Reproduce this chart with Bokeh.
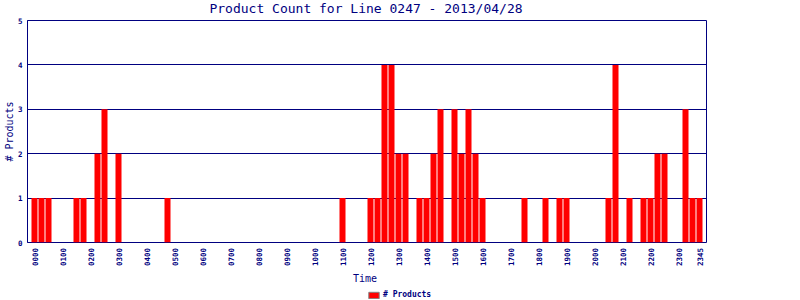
import math
from bokeh.plotting import figure
from bokeh.layouts import column
from bokeh.models import (ColumnDataSource, FixedTicker, Legend, LegendItem,
                          Range1d, Label)
from bokeh.embed import file_html
from bokeh.resources import INLINE

# 96 quarter-hour slots, 0000 .. 2345
slot_index = [0, 1, 2, 6, 7, 9, 10, 12, 19, 44, 48, 49, 50, 51, 52, 53,
              55, 56, 57, 58, 60, 61, 62, 63, 64, 70, 73, 75, 76, 82, 83,
              85, 87, 88, 89, 90, 93, 94, 95]
product_count = [1, 1, 1, 1, 1, 2, 3, 2, 1, 1, 1, 1, 4, 4, 2, 2,
                 1, 1, 2, 3, 3, 2, 3, 2, 1, 1, 1, 1, 1, 1, 4,
                 1, 1, 1, 2, 2, 3, 1, 1]
tick_index = [0, 4, 8, 12, 16, 20, 24, 28, 32, 36, 40, 44, 48, 52, 56, 60,
              64, 68, 72, 76, 80, 84, 88, 92, 95]
tick_labels = ["0000", "0100", "0200", "0300", "0400", "0500", "0600", "0700",
               "0800", "0900", "1000", "1100", "1200", "1300", "1400", "1500",
               "1600", "1700", "1800", "1900", "2000", "2100", "2200", "2300",
               "2345"]
y_ticks = [0, 1, 2, 3, 4, 5]
title_text = "Product Count for Line 0247 - 2013/04/28"

NAVY = "#000080"
FONT = "DejaVu Sans Mono"
TOP_H = 15
MAIN_H = 232
BOTTOM_H = 53


def bare(fig):
    fig.outline_line_color = None
    fig.xgrid.visible = False
    fig.ygrid.visible = False
    fig.background_fill_color = "white"
    fig.border_fill_color = "white"


# ---------- title strip (frame is aligned with the chart frame below) ----------
t = figure(width=800, height=TOP_H, output_backend="svg", toolbar_location=None,
           title=None, x_range=Range1d(0, 800), y_range=Range1d(0, TOP_H),
           x_axis_type=None, y_axis_type=None, min_border=0)
bare(t)
t.add_layout(Label(x=338.5, y=7, x_units="screen", y_units="screen",
                   text=title_text, text_align="center",
                   text_baseline="middle", text_font=FONT,
                   text_font_size="13px", text_color=NAVY))

# ---------- main chart ----------
src = ColumnDataSource(dict(x=slot_index, top=product_count))
p = figure(width=800, height=MAIN_H, output_backend="svg",
           toolbar_location=None, title=None,
           x_range=Range1d(-1, 96), y_range=Range1d(0, 5), x_axis_type=None,
           min_border_left=27, min_border_right=94, min_border_top=5,
           min_border_bottom=5)

r = p.vbar(x="x", top="top", bottom=0, width=0.86, source=src,
           fill_color="#ff0000", line_color=None)

p.outline_line_color = NAVY
p.outline_line_width = 1
p.background_fill_color = "white"
p.border_fill_color = "white"

p.xgrid.visible = False
p.ygrid.grid_line_color = NAVY
p.ygrid.grid_line_width = 1
p.ygrid.ticker = FixedTicker(ticks=y_ticks)

ya = p.yaxis[0]
ya.ticker = FixedTicker(ticks=y_ticks)
ya.axis_line_color = NAVY
ya.major_tick_line_color = None
ya.minor_tick_line_color = None
ya.major_tick_out = 0
ya.major_tick_in = 0
ya.minor_tick_out = 0
ya.minor_tick_in = 0
ya.major_label_text_font = FONT
ya.major_label_text_font_size = "7.5px"
ya.major_label_text_font_style = "bold"
ya.major_label_text_color = NAVY
ya.major_label_standoff = 5
ya.axis_label = "# Products"
ya.axis_label_text_font = FONT
ya.axis_label_text_font_size = "10px"
ya.axis_label_text_font_style = "normal"
ya.axis_label_text_color = NAVY
ya.axis_label_standoff = 0

# ---------- bottom strip: rotated time labels, axis title, legend ----------
q = figure(width=800, height=BOTTOM_H, output_backend="svg",
           toolbar_location=None, title=None, x_range=p.x_range,
           y_range=Range1d(0, BOTTOM_H), x_axis_type=None, y_axis_type=None,
           min_border_left=27, min_border_right=94, min_border_top=0,
           min_border_bottom=0)
bare(q)

for xi, lab in zip(tick_index, tick_labels):
    q.add_layout(Label(x=xi, y=BOTTOM_H - 0.5, y_units="screen", text=lab,
                       angle=math.pi / 2, text_align="right",
                       text_baseline="middle", text_font=FONT,
                       text_font_size="7.5px", text_font_style="bold",
                       text_color=NAVY))

q.add_layout(Label(x=337.5, y=22, x_units="screen", y_units="screen",
                   text="Time", text_align="center", text_baseline="middle",
                   text_font=FONT, text_font_size="10px", text_color=NAVY))

dummy = q.vbar(x=[float("nan")], top=[float("nan")], width=0.86,
               fill_color="#ff0000", line_color="#808080", line_width=1)
legend = Legend(items=[LegendItem(label="# Products", renderers=[dummy])],
                location=(340, 1), orientation="horizontal",
                glyph_width=13, glyph_height=8, padding=0, margin=0,
                spacing=0, label_standoff=3,
                label_text_font=FONT, label_text_font_size="8px",
                label_text_font_style="bold", label_text_color=NAVY,
                label_height=8, border_line_color=None,
                background_fill_alpha=0)
q.add_layout(legend, "center")

layout = column(t, p, q, spacing=0)
open("out.html", "w").write(file_html(layout, INLINE))
